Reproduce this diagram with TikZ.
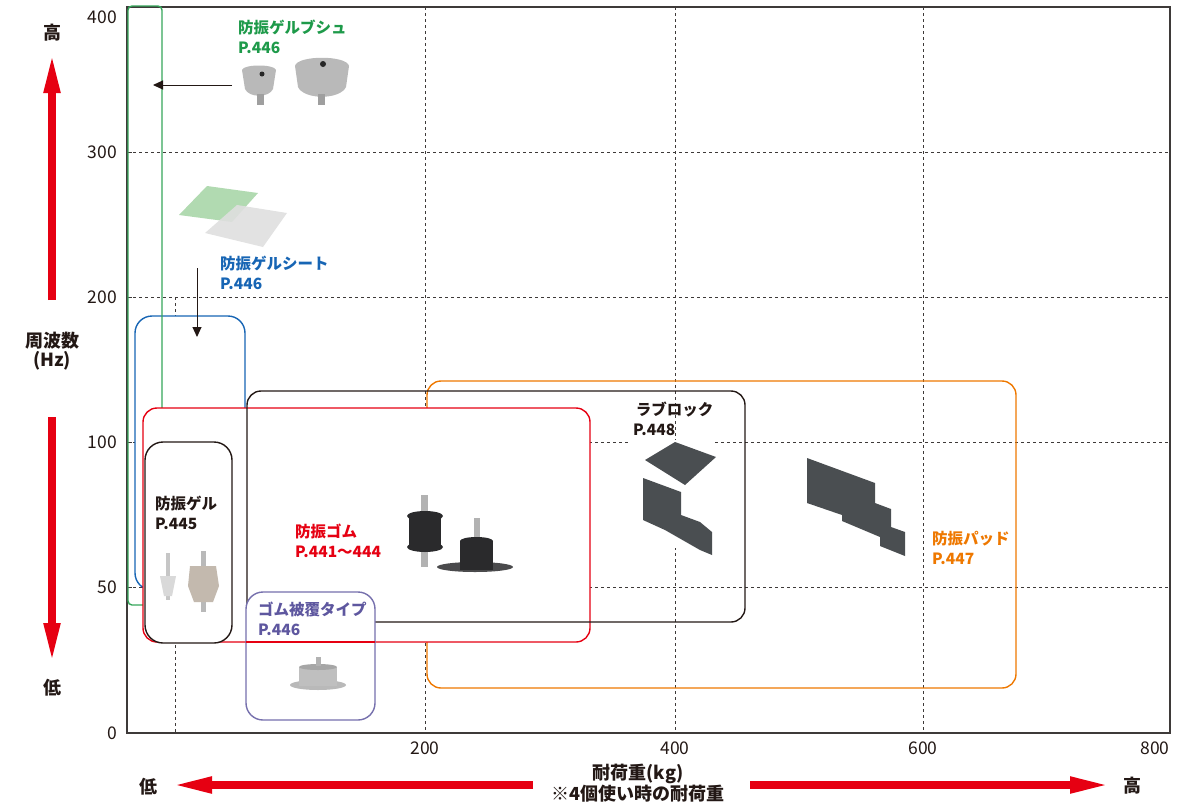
\documentclass[tikz,border=0pt]{standalone}
\usepackage{fontspec}
\setmainfont{Noto Sans CJK JP}
\usetikzlibrary{arrows.meta,positioning}
\definecolor{gelgreen}{HTML}{1E9A4A}
\definecolor{bushline}{HTML}{35A65A}
\definecolor{sheetblue}{HTML}{1765B4}
\definecolor{rubberred}{HTML}{E60012}
\definecolor{padorange}{HTML}{EE7800}
\definecolor{coverpurple}{HTML}{5E579F}
\definecolor{inkblack}{HTML}{231815}
\definecolor{axisgray}{HTML}{3E3A39}
\definecolor{rubberdark}{HTML}{2A2A2C}
\definecolor{blockgray}{HTML}{4A4E51}
\tikzset{
  box/.style={draw=#1, line width=1.4pt, rounded corners=15pt, fill=white, rectangle,
    anchor=north west, inner sep=0pt, outer sep=0pt},
  openbox/.style={box=#1, fill=none},
  lbl/.style={text=#1, anchor=west, inner sep=0pt, align=left,
    font=\fontsize{15.5}{20.5}\selectfont\bfseries},
  num/.style={text=inkblack, inner sep=0pt, font=\fontsize{17.5}{17.5}\selectfont},
  axtitle/.style={text=inkblack, inner sep=0pt, align=center,
    font=\fontsize{18}{19.5}\selectfont\bfseries},
  gridline/.style={axisgray, line width=0.8pt, dash pattern=on 3pt off 3pt},
  bigarrow/.style={rubberred, line width=7.5pt, -{Triangle[length=40pt,width=15pt]}},
  pointer/.style={inkblack, line width=1pt, -{Triangle[length=10pt,width=9pt]}}
}
\begin{document}
\begin{tikzpicture}[x=1pt,y=-1pt]
\useasboundingbox (0,0) rectangle (1195,804);
% grid and frame
\foreach \y in {152,297,442,587} {
  \draw[gridline] (127,\y) -- (1170,\y);
  \draw[axisgray, line width=1pt] (127,\y) -- (132,\y);
}
\foreach \x in {425,675,923} \draw[gridline] (\x,7) -- (\x,733);
\draw[gridline] (175,297) -- (175,733);
\draw[axisgray, line width=1.8pt] (127,7) rectangle (1170,733);
% axis numbers
\foreach \v/\y in {400/17,300/152,200/297,100/442,50/587,0/733}
  \node[num, anchor=east] (y\v) at (117,\y) {\v};
\foreach \v/\x in {200/425,400/675,600/923,800/1155}
  \node[num] (x\v) at (\x,748) {\v};
% axis titles and red arrows
\node[axtitle] (hiY) at (52,33) {高};
\node[axtitle] (loY) at (52,688) {低};
\node[axtitle] (freq) at (52,351) {周波数\\(Hz)};
\node[axtitle] (loX) at (148,787) {低};
\node[axtitle] (hiX) at (1132,786) {高};
\node[axtitle] (load) at (638,783) {耐荷重(kg)\\※4個使い時の耐荷重};
\coordinate (upfrom) at (52,300);   \coordinate (upto) at (52,53);
\coordinate (downfrom) at (52,417); \coordinate (downto) at (52,663);
\coordinate (leftfrom) at (533,785); \coordinate (leftto) at (172,785);
\coordinate (rightfrom) at (750,785); \coordinate (rightto) at (1110,785);
\draw[bigarrow] (upfrom) -- (upto);
\draw[bigarrow] (downfrom) -- (downto);
\draw[bigarrow] (leftfrom) -- (leftto);
\draw[bigarrow] (rightfrom) -- (rightto);
% ranges, back to front
\node[box=sheetblue, rounded corners=17pt, minimum width=110, minimum height=274] (sheetbox) at (135,316) {};
\node[openbox=bushline, rounded corners=4pt, minimum width=34, minimum height=599] (bushbox) at (128,6) {};
\node[openbox=padorange, rounded corners=14pt, minimum width=589, minimum height=307] (padbox) at (427,381) {};
\node[box=rubberred, rounded corners=14pt, minimum width=447, minimum height=234] (rubberbox) at (143,408) {};
\node[openbox=inkblack, rounded corners=14pt, minimum width=498, minimum height=231] (blockbox) at (247,391) {};
\node[box=coverpurple!85!white, rounded corners=17pt, minimum width=129, minimum height=128] (coverbox) at (246,592) {};
\draw[rubberred, line width=1.4pt] (coverbox.west |- rubberbox.south) -- (coverbox.east |- rubberbox.south);
\node[box=inkblack, rounded corners=18pt, minimum width=87, minimum height=201] (gelbox) at (145,442) {};
% product labels
\node[lbl=gelgreen] (bushlbl) at (238,37) {防振ゲルブシュ\\P.446};
\node[lbl=sheetblue] (sheetlbl) at (220,273) {防振ゲルシート\\P.446};
\node[lbl=inkblack] (gellbl) at (155,513) {防振ゲル\\P.445};
\node[lbl=rubberred] (rubberlbl) at (295,541) {防振ゴム\\P.441～444};
\node[lbl=coverpurple] (coverlbl) at (258,619) {ゴム被覆タイプ\\P.446};
\node[lbl=inkblack] (blocklbl) at (633,419) {\,ラブロック\\P.448};
\node[lbl=padorange] (padlbl) at (932,548) {防振パッド\\P.447};
% pointers
\coordinate (bushfrom) at (232,85); \coordinate (bushto) at (153,85);
\coordinate (sheetfrom) at (197,268); \coordinate (sheetto) at (197,337);
\draw[pointer] (bushfrom) -- (bushto);
\draw[pointer] (sheetfrom) -- (sheetto);
% photos (rough)
\fill[gray!55] (242,70) .. controls (243,64) and (275,64) .. (276,70) -- (273,89) .. controls (269,98) and (249,98) .. (245,89) -- cycle;
\fill[gray!75] (257,94) rectangle (264,105);
\fill[gray!30!black] (262,74) circle (2.5);
\fill[gray!55] (295,66) .. controls (297,55) and (347,55) .. (349,66) -- (346,87) .. controls (340,100) and (304,100) .. (298,87) -- cycle;
\fill[gray!75] (318,94) rectangle (325,105);
\fill[gray!30!black] (323,64) circle (3);
\fill[green!35!gray!45] (179,215) -- (207,186) -- (258,193) -- (232,222) -- cycle;
\fill[gray!25, opacity=0.9] (205,233) -- (237,205) -- (287,213) -- (263,247) -- cycle;
\fill[gray!45] (166,553) rectangle (170,600);
\fill[gray!30] (160,576) -- (176,576) -- (172,596) -- (164,596) -- cycle;
\fill[gray!55] (201,551) rectangle (206,612);
\fill[brown!30!gray!55] (190,566) -- (216,566) -- (219,586) -- (213,602) -- (194,602) -- (188,586) -- cycle;
\fill[gray!60] (421,495) rectangle (428,567);
\fill[rubberdark] (409,515) rectangle (441,548);
\fill[rubberdark] (425,516) ellipse (18 and 5);
\fill[rubberdark] (425,547) ellipse (18 and 5);
\fill[rubberdark!85] (475,567) ellipse (38 and 5);
\fill[gray!60] (474,518) rectangle (480,542);
\fill[rubberdark] (460,541) rectangle (493,570);
\fill[rubberdark] (476.5,541) ellipse (16.5 and 4);
\fill[gray!55] (318,685) ellipse (28 and 5);
\fill[gray!50] (299,667) rectangle (337,686);
\fill[gray!70] (318,667) ellipse (19 and 3);
\fill[gray!60] (316,657) rectangle (321,666);
\fill[white] (630,440) rectangle (714,548);
\fill[blockgray] (645,460) -- (675,442) -- (716,457) -- (685,485) -- cycle;
\fill[blockgray] (643,478) -- (681,492) -- (681,515) -- (700,522) -- (712,532) -- (712,555) -- (700,550) -- (665,530) -- (643,520) -- cycle;
\fill[blockgray] (807,458) -- (875,483) -- (875,503) -- (891,509) -- (891,527) -- (905,532) -- (905,556) -- (880,546) -- (880,537) -- (842,521) -- (842,515) -- (807,503) -- cycle;
\end{tikzpicture}
\end{document}
